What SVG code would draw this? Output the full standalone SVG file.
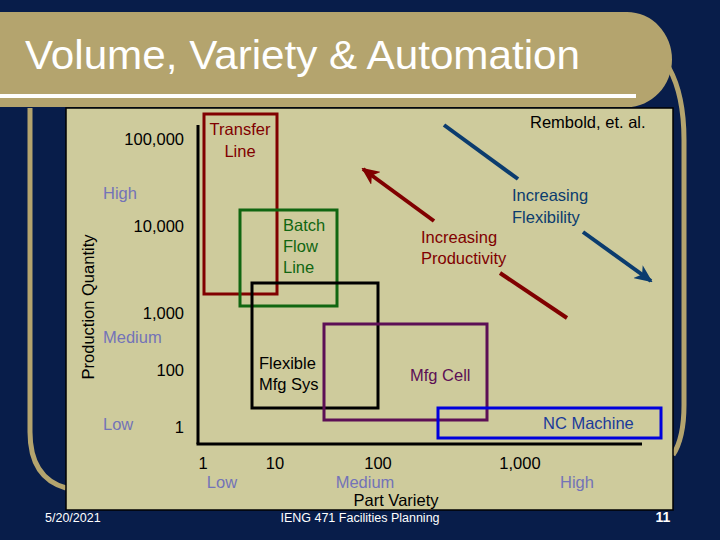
<svg xmlns="http://www.w3.org/2000/svg" width="720" height="540" viewBox="0 0 720 540">
<defs>
<style>
text{font-family:"Liberation Sans",Arial,sans-serif;}
.lbl{font-size:16.5px;fill:#000;}
.lvl{font-size:16.5px;fill:#7373B8;}
.box{fill:none;stroke-width:3;}
.deco{fill:none;stroke:#B4A46E;stroke-width:5;}
.foot{font-size:12.5px;fill:#fff;}
</style>
<marker id="ahRed" viewBox="0 0 18 16" refX="16" refY="8" markerWidth="18" markerHeight="16" markerUnits="userSpaceOnUse" orient="auto">
<path d="M0,0 L18,8 L0,16 L5,8 Z" fill="#800000"/>
</marker>
<marker id="ahBlue" viewBox="0 0 18 16" refX="16" refY="8" markerWidth="18" markerHeight="16" markerUnits="userSpaceOnUse" orient="auto">
<path d="M0,0 L18,8 L0,16 L5,8 Z" fill="#0B3C6E"/>
</marker>
</defs>
<rect x="0" y="0" width="720" height="540" fill="#081D4A"/>
<!-- title band -->
<g id="title">
<path d="M-10,12 L627,12 A45,47.5 0 0 1 627,107 L-10,107 Z" fill="#B4A46E"/>
<line x1="0" y1="96" x2="636" y2="96" stroke="#FFFFFF" stroke-width="4"/>
<text x="25" y="69" font-size="40" fill="#FFFFFF" textLength="555" lengthAdjust="spacingAndGlyphs">Volume, Variety &amp; Automation</text>
</g>
<!-- decorative borders -->
<path class="deco" d="M30,108 L30,432 Q30,478 66,488"/>
<path class="deco" d="M669,68 Q684,95 684,140 L684,405 Q684,438 673,455"/>
<!-- panel -->
<rect x="66" y="108" width="607" height="402" fill="#CECB9C" stroke="#000" stroke-width="1.5"/>
<!-- axes -->
<g id="axes">
<line x1="198" y1="125" x2="198" y2="444" stroke="#000" stroke-width="3"/>
<line x1="196.5" y1="444" x2="642" y2="444" stroke="#000" stroke-width="3"/>
<text class="lbl" x="184" y="145" text-anchor="end">100,000</text>
<text class="lbl" x="184" y="232" text-anchor="end">10,000</text>
<text class="lbl" x="184" y="319" text-anchor="end">1,000</text>
<text class="lbl" x="184" y="376" text-anchor="end">100</text>
<text class="lbl" x="184" y="433" text-anchor="end">1</text>
<text class="lvl" x="103" y="199">High</text>
<text class="lvl" x="103" y="343">Medium</text>
<text class="lvl" x="103" y="430">Low</text>
<text class="lbl" x="0" y="0" font-size="17.5" text-anchor="middle" transform="translate(94,307) rotate(-90)">Production Quantity</text>
<text class="lbl" x="203" y="469" text-anchor="middle">1</text>
<text class="lbl" x="275" y="469" text-anchor="middle">10</text>
<text class="lbl" x="378" y="469" text-anchor="middle">100</text>
<text class="lbl" x="520" y="469" text-anchor="middle">1,000</text>
<text class="lvl" x="222" y="488" text-anchor="middle">Low</text>
<text class="lvl" x="365" y="488" text-anchor="middle">Medium</text>
<text class="lvl" x="577" y="488" text-anchor="middle">High</text>
<text class="lbl" x="396" y="506" font-size="18" text-anchor="middle">Part Variety</text>
<text class="lbl" x="530" y="128">Rembold, et. al.</text>
</g>
<!-- nodes -->
<g id="transfer-line">
<rect class="box" x="204" y="114" width="73" height="180" stroke="#800000"/>
<text class="lbl" x="240" y="135" text-anchor="middle" style="fill:#800000">Transfer</text>
<text class="lbl" x="240" y="157" text-anchor="middle" style="fill:#800000">Line</text>
</g>
<g id="batch-flow-line">
<rect class="box" x="240" y="210" width="97" height="96" stroke="#116611"/>
<text class="lbl" x="283" y="231" style="fill:#116611">Batch</text>
<text class="lbl" x="283" y="252" style="fill:#116611">Flow</text>
<text class="lbl" x="283" y="273" style="fill:#116611">Line</text>
</g>
<g id="flexible-mfg-sys">
<rect class="box" x="252" y="283" width="126" height="125" stroke="#000"/>
<text class="lbl" x="259" y="369">Flexible</text>
<text class="lbl" x="259" y="390">Mfg Sys</text>
</g>
<g id="mfg-cell">
<rect class="box" x="324" y="324" width="163" height="96" stroke="#5C0F55"/>
<text class="lbl" x="410" y="381" style="fill:#5C0F55">Mfg Cell</text>
</g>
<g id="nc-machine">
<rect class="box" x="438" y="408" width="223" height="30" stroke="#0000DD"/>
<text class="lbl" x="543" y="429" style="fill:#1A3A9A">NC Machine</text>
</g>
<!-- connectors -->
<g id="connectors" fill="none" stroke-width="4">
<line x1="567" y1="318" x2="500" y2="273" stroke="#800000"/>
<line x1="434" y1="221" x2="363" y2="169" stroke="#800000" marker-end="url(#ahRed)"/>
<line x1="444" y1="125" x2="518" y2="179" stroke="#0B3C6E"/>
<line x1="583" y1="232" x2="651" y2="281" stroke="#0B3C6E" marker-end="url(#ahBlue)"/>
</g>
<g id="arrow-labels">
<text class="lbl" x="421" y="243" style="fill:#800000">Increasing</text>
<text class="lbl" x="421" y="264" style="fill:#800000">Productivity</text>
<text class="lbl" x="512" y="201" style="fill:#0B3C6E">Increasing</text>
<text class="lbl" x="512" y="223" style="fill:#0B3C6E">Flexibility</text>
</g>
<!-- footer -->
<g id="footer">
<text class="foot" x="45" y="522">5/20/2021</text>
<text class="foot" x="360" y="522" text-anchor="middle">IENG 471 Facilities Planning</text>
<text x="663" y="522" font-size="14" font-weight="bold" fill="#FFFFFF" text-anchor="middle">11</text>
</g>
</svg>
